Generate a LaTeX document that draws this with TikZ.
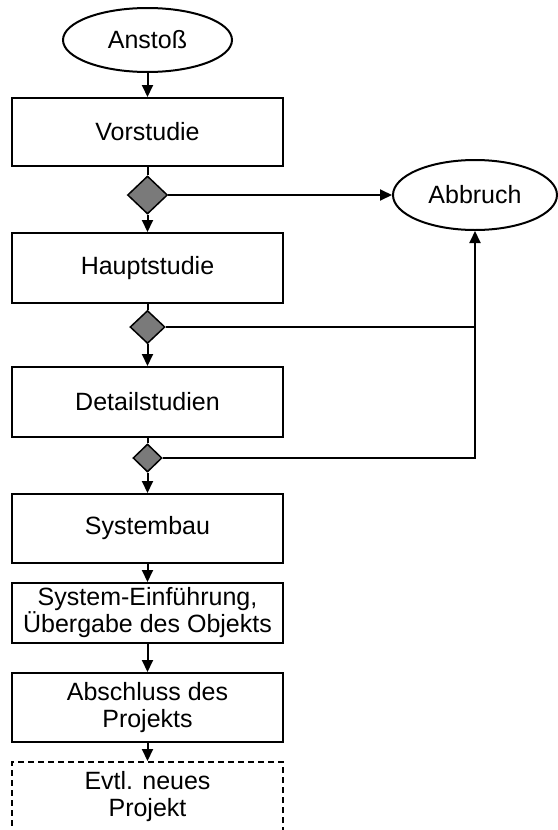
\documentclass[tikz,border=0pt]{standalone}
\usepackage{fontspec}
\setmainfont{Liberation Sans}
\usetikzlibrary{shapes.geometric,arrows.meta}
\begin{document}
\begin{tikzpicture}[x=1pt,y=-1pt,
  every node/.style={font=\fontsize{25}{27}\selectfont, inner sep=0pt},
  line/.style={line width=2pt},
  arr/.style={line, -{Triangle[width=11pt,length=12pt]}},
  stepbox/.style={draw, line width=2pt, minimum width=271pt, align=center},
  term/.style={draw, ellipse, line width=2pt},
  gate/.style={draw, diamond, fill=black!52, line width=1.5pt, aspect=1}]
\useasboundingbox (0,0) rectangle (557,830);
\fill[white] (0,0) rectangle (557,830);

% start and stop
\node[term, minimum width=169pt, minimum height=64pt] (start) at (147.5,40) {Anstoß};
\node[term, minimum width=164pt, minimum height=70pt] (stop) at (475,195) {Abbruch};

% process steps
\node[stepbox, minimum height=68pt] (vor) at (147.5,132) {Vorstudie};
\node[stepbox, minimum height=70pt] (haupt) at (147.5,268) {Hauptstudie};
\node[stepbox, minimum height=70pt] (detail) at (147.5,402) {Detailstudien};
\node[stepbox, minimum height=69pt] (bau) at (147.5,528.5) {Systembau};
\node[stepbox, minimum height=60pt] (einf) at (147.5,613) {System-Einführung,\\Übergabe des Objekts};
\node[stepbox, minimum height=69pt] (abschl) at (147.5,707.5) {Abschluss des\\Projekts};
\node[stepbox, minimum height=70pt, dash pattern=on 6pt off 4pt] (neu) at (147.5,797) {Evtl. neues\\Projekt};

% decision points
\node[gate, minimum width=40pt, minimum height=38pt] (d1) at (147.5,195) {};
\node[gate, minimum width=35pt, minimum height=33pt] (d2) at (147.5,327) {};
\node[gate, minimum width=29pt, minimum height=28pt] (d3) at (147.5,458) {};

% main flow
\draw[arr] (start) -- (vor);
\draw[line] (vor) -- (d1);
\draw[arr] (d1) -- (haupt);
\draw[line] (haupt) -- (d2);
\draw[arr] (d2) -- (detail);
\draw[line] (detail) -- (d3);
\draw[arr] (d3) -- (bau);
\draw[arr] (bau) -- (einf);
\draw[arr] (einf) -- (abschl);
\draw[arr] (abschl) -- (neu);

% cancellation paths
\draw[arr] (d1.east) -- (stop.west);
\draw[line] (d2.east) -- (d2.east -| stop.south);
\draw[arr] (d3.east) -| (stop.south);
\end{tikzpicture}
\end{document}
